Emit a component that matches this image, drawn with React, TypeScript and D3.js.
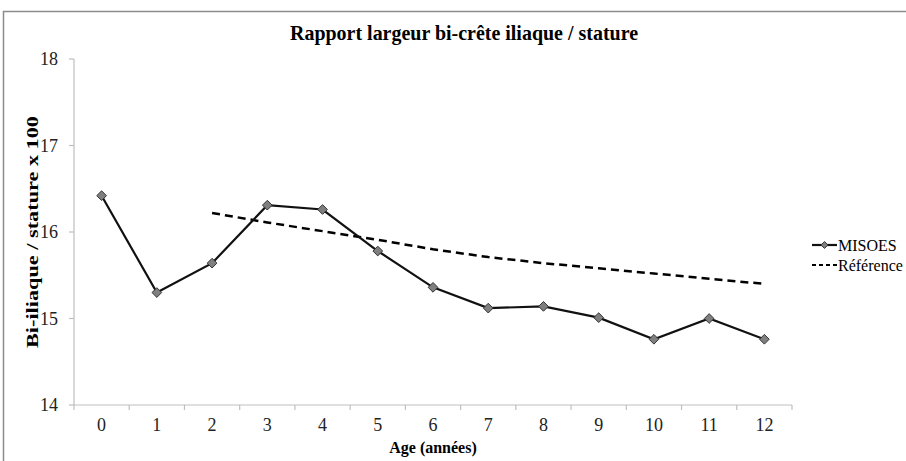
import React from "react";
import * as d3 from "d3";

const ages = [0, 1, 2, 3, 4, 5, 6, 7, 8, 9, 10, 11, 12];
const misoes = [16.42, 15.3, 15.64, 16.31, 16.26, 15.78, 15.36, 15.12, 15.14, 15.01, 14.76, 15.0, 14.76];
const refAges = [2, 3, 4, 5, 6, 7, 8, 9, 10, 11, 12];
const reference = [16.22, 16.11, 16.01, 15.91, 15.8, 15.71, 15.64, 15.58, 15.52, 15.46, 15.4];
const yTicks = [14, 15, 16, 17, 18];
const title = "Rapport largeur bi-crête iliaque / stature";
const yTitle = "Bi-iliaque / stature x 100";
const xTitle = "Age (années)";
const seriesNames = ["MISOES", "Référence"];

const W = 906;
const H = 461;
const FONT = "Liberation Serif, DejaVu Serif, serif";

export default function App() {
  const x = d3.scaleBand<number>().domain(ages).range([74, 792]).paddingInner(0).paddingOuter(0);
  const cx = (a: number) => (x(a) as number) + x.bandwidth() / 2;
  const y = d3.scaleLinear().domain([14, 18]).range([405, 59]);

  const line = d3
    .line<[number, number]>()
    .x((d) => cx(d[0]))
    .y((d) => y(d[1]));

  const misoesPts: [number, number][] = ages.map((a, i) => [a, misoes[i]]);
  const refPts: [number, number][] = refAges.map((a, i) => [a, reference[i]]);
  const diamond = d3.symbol(d3.symbolDiamond2, 60)() as string;
  const xBounds = [...ages.map((a) => x(a) as number), 792];

  return (
    <svg width={W} height={H} style={{ display: "block", position: "absolute", left: 0, top: 0 }} fontFamily={FONT}>
      <rect x={0} y={0} width={W} height={H} fill="#fff" />
      <rect x={3.5} y={11.5} width={W + 20} height={H + 20} fill="none" stroke="#8c8c8c" strokeWidth={1.5} />
      <text
        x={464}
        y={40}
        textAnchor="middle"
        fontWeight="bold"
        fontSize={22}
        textLength={348}
        lengthAdjust="spacingAndGlyphs"
      >
        {title}
      </text>

      {/* y axis */}
      <line x1={74} x2={74} y1={y(18)} y2={y(14)} stroke="#bfbfbf" strokeWidth={1.2} />
      {yTicks.map((t) => (
        <g key={t}>
          <line x1={69} x2={74} y1={y(t)} y2={y(t)} stroke="#bfbfbf" strokeWidth={1.2} />
          <text x={58} y={y(t) + 6} textAnchor="end" fontSize={18} fill="#222">
            {t}
          </text>
        </g>
      ))}
      <text
        transform={`translate(38,${(y(14) + y(18)) / 2}) rotate(-90)`}
        textAnchor="middle"
        fontWeight="bold"
        fontSize={17}
        textLength={232}
        lengthAdjust="spacingAndGlyphs"
      >
        {yTitle}
      </text>

      {/* x axis */}
      <line x1={74} x2={792} y1={405} y2={405} stroke="#bfbfbf" strokeWidth={1.2} />
      {xBounds.map((b, i) => (
        <line key={i} x1={b} x2={b} y1={405} y2={410} stroke="#bfbfbf" strokeWidth={1.2} />
      ))}
      {ages.map((a) => (
        <text key={a} x={cx(a)} y={431} textAnchor="middle" fontSize={18} fill="#222">
          {a}
        </text>
      ))}
      <text x={433} y={453} textAnchor="middle" fontWeight="bold" fontSize={16}>
        {xTitle}
      </text>

      {/* reference dashed */}
      <path d={line(refPts) as string} fill="none" stroke="#000" strokeWidth={2.5} strokeDasharray="8,5" />
      {/* MISOES */}
      <path d={line(misoesPts) as string} fill="none" stroke="#111" strokeWidth={2.2} />
      {misoesPts.map((p, i) => (
        <path
          key={i}
          d={diamond}
          transform={`translate(${cx(p[0])},${y(p[1])})`}
          fill="#7f7f7f"
          stroke="#333"
          strokeWidth={1}
        />
      ))}

      {/* legend */}
      <line x1={812} x2={837} y1={245} y2={245} stroke="#111" strokeWidth={2.2} />
      <path d={d3.symbol(d3.symbolDiamond2, 30)() as string} transform="translate(824.5,245)" fill="#7f7f7f" stroke="#333" />
      <text x={838} y={250.5} fontSize={16}>
        {seriesNames[0]}
      </text>
      <line x1={812} x2={837} y1={265} y2={265} stroke="#000" strokeWidth={2.2} strokeDasharray="4,3" />
      <text x={838} y={270.5} fontSize={16}>
        {seriesNames[1]}
      </text>
    </svg>
  );
}
